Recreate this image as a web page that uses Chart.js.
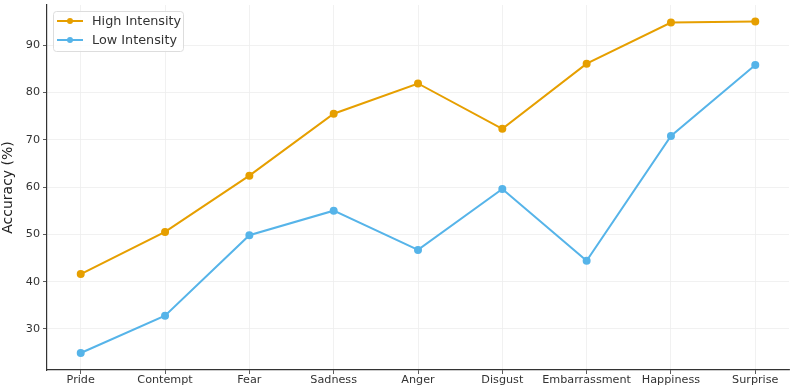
<!DOCTYPE html>
<html>
<head>
<meta charset="utf-8">
<script src="https://cdn.jsdelivr.net/npm/chart.js@4.4.1/dist/chart.umd.min.js"></script>
<style>
  html, body { margin: 0; padding: 0; background: #fff; }
  #wrap { width: 794px; height: 386px; }
</style>
</head>
<body>
<div id="wrap"><canvas id="acc_chart"></canvas></div>
<script>
const emotions = ['Pride', 'Contempt', 'Fear', 'Sadness', 'Anger', 'Disgust', 'Embarrassment', 'Happiness', 'Surprise'];
const highIntensity = [41.6, 50.5, 62.4, 75.5, 81.9, 72.3, 86.1, 94.8, 95.0];
const lowIntensity = [24.9, 32.8, 49.8, 55.0, 46.7, 59.6, 44.4, 70.8, 85.8];
const yTicks = [30, 40, 50, 60, 70, 80, 90];

const FONT = 'DejaVu Sans';

function toPoints(values) {
    return values.map((v, i) => ({ x: i, y: v }));
}

// legend drawn inside the plot, upper left, matplotlib style
const insideLegend = {
    id: 'insideLegend',
    afterDraw(chart) {
        const c = chart.ctx;
        const area = chart.chartArea;
        const x0 = area.left + 6, y0 = area.top + 6;
        const w = 130, h = 40;
        c.save();
        c.fillStyle = 'rgba(255,255,255,0.85)';
        c.strokeStyle = '#dddddd';
        c.lineWidth = 1;
        c.beginPath();
        c.roundRect(x0 + 0.5, y0 + 0.5, w, h, 3);
        c.fill();
        c.stroke();
        c.font = '12.8px ' + FONT;
        c.textBaseline = 'middle';
        chart.data.datasets.forEach((ds, i) => {
            const yy = y0 + 10 + i * 19;
            c.strokeStyle = ds.borderColor;
            c.lineWidth = 2;
            c.beginPath();
            c.moveTo(x0 + 4, yy);
            c.lineTo(x0 + 30, yy);
            c.stroke();
            c.fillStyle = ds.borderColor;
            c.beginPath();
            c.arc(x0 + 17, yy, 3, 0, Math.PI * 2);
            c.fill();
            c.fillStyle = '#333333';
            c.fillText(ds.label, x0 + 39, yy + 1);
        });
        c.restore();
    }
};

new Chart(document.getElementById('acc_chart'), {
    type: 'line',
    data: {
        datasets: [{
            label: 'High Intensity',
            data: toPoints(highIntensity),
            borderColor: '#E69F00',
            backgroundColor: '#E69F00',
            borderWidth: 2,
            pointRadius: 3,
            pointHoverRadius: 3,
            tension: 0
        }, {
            label: 'Low Intensity',
            data: toPoints(lowIntensity),
            borderColor: '#56B4E9',
            backgroundColor: '#56B4E9',
            borderWidth: 2,
            pointRadius: 3,
            pointHoverRadius: 3,
            tension: 0
        }]
    },
    options: {
        responsive: true,
        maintainAspectRatio: false,
        animation: false,
        layout: { padding: { top: 0, right: 2, left: 0, bottom: 0 } },
        plugins: {
            legend: { display: false },
            tooltip: { enabled: false }
        },
        scales: {
            x: {
                type: 'linear',
                min: -0.4,
                max: 8.4,
                afterBuildTicks: (axis) => {
                    axis.ticks = emotions.map((_, i) => ({ value: i }));
                },
                afterFit: (axis) => {
                    axis.height = 16;
                    axis.paddingLeft = 0;
                    axis.paddingRight = 0;
                },
                ticks: {
                    color: '#333333',
                    font: { family: FONT, size: 11.2, lineHeight: 1 },
                    padding: 0,
                    maxRotation: 0,
                    autoSkip: false,
                    callback: (v) => emotions[v]
                },
                grid: {
                    color: '#eeeeee',
                    lineWidth: 0.8,
                    tickColor: '#333333',
                    tickLength: 4
                },
                border: { display: true, color: '#333333', width: 1.2 }
            },
            y: {
                type: 'linear',
                min: 21.3,
                max: 98.5,
                afterBuildTicks: (axis) => {
                    axis.ticks = yTicks.map(v => ({ value: v }));
                },
                afterFit: (axis) => {
                    axis.width = 47;
                    axis.paddingTop = 0;
                    axis.paddingBottom = 0;
                },
                ticks: {
                    color: '#333333',
                    font: { family: FONT, size: 11.2 },
                    padding: 3
                },
                title: {
                    display: true,
                    text: 'Accuracy (%)',
                    color: '#222222',
                    font: { family: FONT, size: 14 },
                    padding: { top: 0, bottom: 2 }
                },
                grid: {
                    color: '#eeeeee',
                    lineWidth: 0.8,
                    tickColor: '#333333',
                    tickLength: 4
                },
                border: { display: true, color: '#333333', width: 1.2 }
            }
        }
    },
    plugins: [insideLegend]
});
</script>
</body>
</html>
